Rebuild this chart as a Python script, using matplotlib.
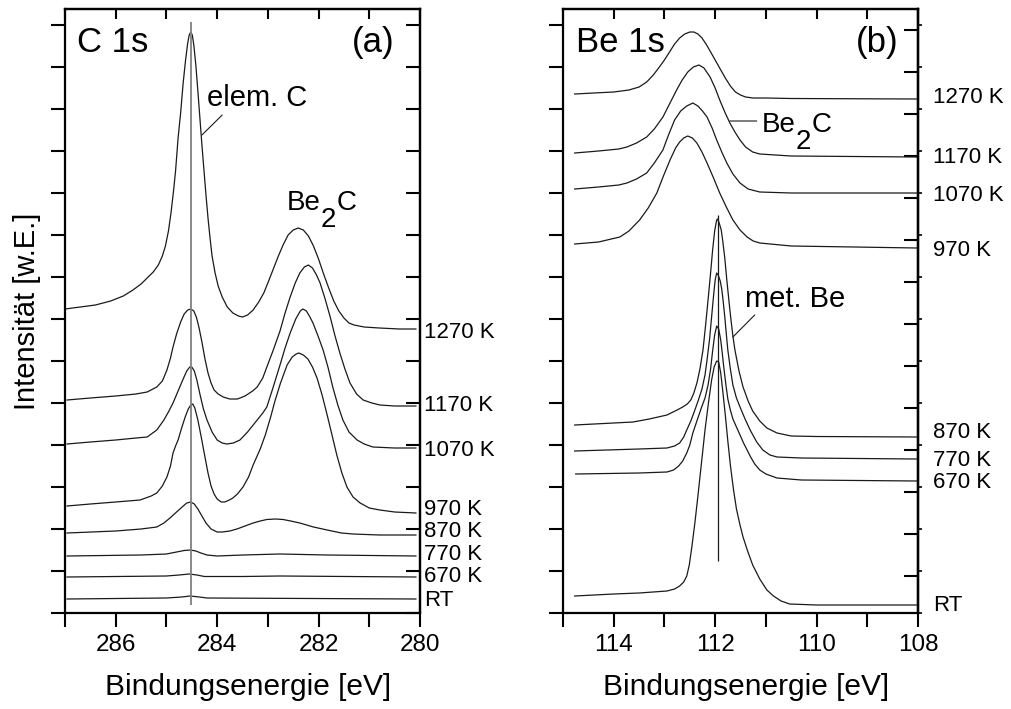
import matplotlib
matplotlib.use('Agg')
import matplotlib.pyplot as plt
import matplotlib.transforms as mtransforms
from matplotlib.ticker import MultipleLocator, NullFormatter

plt.rcParams['font.family'] = ['Liberation Sans', 'DejaVu Sans']
plt.rcParams['mathtext.default'] = 'regular'

# ---------------- data: C 1s (panel a) ----------------
c_1270_E = [287.00, 286.70, 286.40, 286.10, 285.85, 285.66, 285.50, 285.38, 285.26, 285.16, 285.08,
            285.02, 284.96, 284.91, 284.86, 284.82, 284.77, 284.72, 284.67, 284.62, 284.58, 284.55,
            284.52, 284.49, 284.46, 284.42, 284.38, 284.34, 284.30, 284.26, 284.22, 284.18, 284.14,
            284.10, 284.04, 283.98, 283.90, 283.80, 283.69, 283.58, 283.50, 283.40, 283.29, 283.18,
            283.08, 283.00, 282.90, 282.80, 282.70, 282.60, 282.50, 282.40, 282.30, 282.20, 282.10,
            282.00, 281.90, 281.80, 281.70, 281.60, 281.50, 281.40, 281.30, 281.10, 280.80, 280.40,
            280.08]
c_1270_I = [304, 306, 308, 312, 317, 323, 329, 335, 341, 348, 357,
            367, 382, 400, 422, 442, 475, 500, 530, 554, 570, 578,
            581, 578, 568, 548, 522, 495, 468, 443, 418, 395, 375,
            357, 340, 327, 316, 306, 300, 297, 296, 298, 303, 311,
            320, 330, 343, 356, 368, 378, 383, 385, 383, 377, 367,
            354, 339, 325, 312, 302, 295, 290, 288, 286, 285, 284,
            284]
c_1170_E = [286.96, 286.50, 286.00, 285.60, 285.38, 285.19, 285.08, 284.99, 284.92, 284.87, 284.80,
            284.72, 284.65, 284.58, 284.52, 284.46, 284.41, 284.36, 284.30, 284.24, 284.18, 284.12,
            284.06, 283.98, 283.88, 283.75, 283.60, 283.45, 283.30, 283.21, 283.10, 283.02, 282.90,
            282.76, 282.66, 282.56, 282.46, 282.37, 282.28, 282.20, 282.12, 282.04, 281.97, 281.87,
            281.77, 281.68, 281.58, 281.48, 281.38, 281.25, 281.12, 280.95, 280.79, 280.50, 280.08]
c_1170_I = [213, 215, 217, 219, 221, 226, 232, 243, 255, 266, 279,
            291, 299, 303, 304, 302, 296, 286, 271, 254, 240, 230,
            223, 219, 216, 214, 214, 217, 222, 226, 235, 246, 262,
            282, 300, 316, 330, 340, 346, 348, 345, 338, 330, 314,
            296, 278, 260, 244, 230, 219, 213, 210, 208, 207, 207]
c_1070_E = [286.96, 286.50, 286.00, 285.60, 285.38, 285.19, 285.05, 284.95, 284.87, 284.77, 284.67,
            284.60, 284.54, 284.50, 284.45, 284.40, 284.34, 284.27, 284.20, 284.10, 284.00, 283.90,
            283.81, 283.68, 283.55, 283.40, 283.21, 283.10, 283.02, 282.90, 282.76, 282.66, 282.56,
            282.45, 282.36, 282.31, 282.24, 282.17, 282.11, 282.01, 281.91, 281.81, 281.72, 281.62,
            281.52, 281.40, 281.24, 281.10, 280.93, 280.50, 280.08]
c_1070_I = [169, 171, 173, 175, 176, 183, 193, 202, 210, 222, 234,
            242, 246, 246, 242, 233, 219, 204, 193, 181, 173, 170,
            169, 170, 173, 181, 193, 200, 206, 225, 248, 265, 280,
            294, 302, 304, 302, 296, 290, 277, 263, 245, 226, 208,
            193, 181, 173, 169, 166, 165, 165]
c_970_E = [286.96, 286.50, 286.00, 285.52, 285.30, 285.19, 285.08, 284.99, 284.92, 284.87, 284.82,
           284.77, 284.70, 284.63, 284.57, 284.52, 284.48, 284.44, 284.38, 284.31, 284.24, 284.18,
           284.12, 284.06, 284.00, 283.92, 283.85, 283.76, 283.69, 283.60, 283.49, 283.38, 283.29,
           283.15, 283.05, 282.95, 282.86, 282.75, 282.62, 282.52, 282.44, 282.39, 282.30, 282.21,
           282.12, 282.03, 281.93, 281.83, 281.73, 281.64, 281.54, 281.44, 281.32, 281.18, 281.00,
           280.79, 280.50, 280.08]
c_970_I = [107, 109, 111, 113, 117, 120, 127, 136, 147, 160, 167,
           173, 185, 196, 204, 208, 209, 205, 193, 175, 156, 140,
           127, 119, 114, 111, 111, 113, 115, 119, 126, 136, 148,
           164, 178, 195, 212, 230, 248, 256, 259, 260, 258, 254,
           246, 235, 218, 198, 177, 158, 140, 126, 116, 110, 105,
           103, 101, 100]
c_870_E = [286.96, 286.00, 285.50, 285.19, 285.05, 284.93, 284.80, 284.69, 284.60, 284.52, 284.45,
           284.38, 284.30, 284.22, 284.12, 284.00, 283.90, 283.75, 283.61, 283.45, 283.29, 283.15,
           283.02, 282.85, 282.70, 282.55, 282.37, 282.10, 281.83, 281.55, 281.32, 280.80, 280.08]
c_870_I = [80, 82, 84, 86, 90, 95, 101, 106, 110, 111, 109,
           104, 97, 90, 84, 81, 81, 82, 84, 87, 90, 92,
           93.5, 94, 93.5, 92, 90, 86, 83, 80, 79, 78, 78]
c_770_E = [286.96, 285.50, 285.00, 284.80, 284.65, 284.53, 284.42, 284.32, 284.20, 284.00, 283.49,
           282.76, 281.83, 280.08]
c_770_I = [57, 58, 59, 61, 62.5, 63, 62, 60, 58, 57, 58, 59, 58, 57]
c_670_E = [286.96, 285.00, 284.75, 284.55, 284.40, 284.25, 283.50, 282.76, 280.08]
c_670_I = [36, 37, 38, 39, 38, 36.5, 36.5, 37, 36]
c_rt_E = [286.96, 285.00, 284.70, 284.53, 284.35, 284.20, 280.08]
c_rt_I = [14, 15, 16, 17, 16, 15, 14]

c_labels = ['1270 K', '1170 K', '1070 K', '970 K', '870 K', '770 K', '670 K', 'RT']
c_label_I = [281, 208, 163, 104, 82, 59, 37, 13]
c_elem_peak = 284.52
c_line_I = [8, 591]

# ---------------- data: Be 1s (panel b) ----------------
b_1270_E = [114.77, 114.40, 114.00, 113.70, 113.50, 113.35, 113.22, 113.10, 113.00, 112.90, 112.80,
            112.70, 112.60, 112.50, 112.42, 112.34, 112.26, 112.18, 112.10, 112.00, 111.90, 111.80,
            111.70, 111.60, 111.50, 111.40, 111.25, 111.00, 110.50, 108.02]
b_1270_I = [519, 520, 521, 523, 526, 531, 538, 546, 553, 561, 569,
            575, 579, 581, 581, 579, 575, 569, 562, 553, 544, 535,
            527, 521, 518, 516, 515, 515, 514.5, 514]
b_1170_E = [114.77, 114.30, 113.90, 113.74, 113.55, 113.35, 113.20, 113.03, 112.90, 112.76, 112.65,
            112.54, 112.43, 112.32, 112.22, 112.10, 112.00, 111.91, 111.81, 111.71, 111.61, 111.51,
            111.40, 111.26, 111.12, 110.50, 108.02]
b_1170_I = [460, 462, 464, 466, 470, 476, 484, 496, 509, 523, 533,
            541, 546, 548, 545, 536, 525, 513, 501, 490, 481, 473,
            466, 461, 459, 457, 456]
b_1070_E = [114.77, 114.30, 113.90, 113.74, 113.55, 113.35, 113.20, 113.03, 112.92, 112.80, 112.68,
            112.56, 112.44, 112.34, 112.25, 112.16, 112.06, 111.97, 111.87, 111.77, 111.65, 111.51,
            111.35, 111.12, 110.50, 108.02]
b_1070_I = [424, 426, 428, 430, 434, 440, 450, 463, 478, 493, 502,
            507, 510, 507, 502, 496, 485, 473, 461, 450, 439, 430,
            424, 421, 420, 420]
b_970_E = [114.77, 114.30, 113.88, 113.70, 113.49, 113.32, 113.15, 113.02, 112.89, 112.78, 112.70,
           112.62, 112.54, 112.45, 112.36, 112.26, 112.16, 112.04, 111.91, 111.78, 111.65, 111.51,
           111.37, 111.25, 111.12, 110.50, 108.02]
b_970_I = [369, 371, 376, 382, 393, 405, 420, 437, 453, 465, 471,
           475, 477, 475, 470, 461, 450, 436, 420, 406, 393, 383,
           376, 372, 370, 367, 365]
b_870_E = [114.77, 114.00, 113.62, 113.30, 112.95, 112.75, 112.64, 112.55, 112.48, 112.42, 112.36,
           112.30, 112.24, 112.19, 112.14, 112.09, 112.05, 112.01, 111.97, 111.95, 111.92, 111.88,
           111.85, 111.81, 111.77, 111.73, 111.69, 111.65, 111.61, 111.53, 111.45, 111.35, 111.26,
           111.12, 110.98, 110.78, 110.50, 110.00, 108.02]
b_870_I = [188, 190, 191, 194, 198, 203, 206, 209, 213, 220, 230,
           244, 263, 287, 313, 340, 363, 382, 393, 394, 390, 383,
           372, 355, 333, 313, 294, 277, 263, 242, 226, 212, 202,
           192, 185, 180, 177, 176.5, 176]
b_770_E = [114.77, 113.50, 112.95, 112.80, 112.70, 112.62, 112.56, 112.48, 112.40, 112.33, 112.26,
           112.20, 112.16, 112.11, 112.07, 112.03, 112.00, 111.97, 111.94, 111.90, 111.87, 111.84,
           111.81, 111.78, 111.75, 111.70, 111.65, 111.58, 111.51, 111.41, 111.31, 111.18, 111.06,
           110.92, 110.78, 110.30, 108.02]
b_770_I = [162, 164, 165, 167, 170, 176, 183, 192, 203, 213, 224,
           238, 253, 274, 296, 318, 333, 340, 338, 332, 324, 311,
           296, 279, 263, 244, 228, 215, 206, 194, 183, 171, 163,
           158, 156, 155, 154]
b_670_E = [114.75, 113.50, 112.95, 112.82, 112.72, 112.64, 112.56, 112.50, 112.44, 112.36, 112.28,
           112.20, 112.14, 112.09, 112.05, 112.01, 111.97, 111.93, 111.89, 111.86, 111.83, 111.79,
           111.75, 111.70, 111.65, 111.58, 111.51, 111.44, 111.37, 111.30, 111.22, 111.12, 111.00,
           110.78, 110.30, 108.02]
b_670_I = [139, 140, 141, 143, 147, 152, 160, 168, 180, 192, 204,
           215, 228, 244, 262, 278, 287, 284, 273, 260, 246, 229,
           214, 203, 194, 186, 178, 170, 163, 156, 149, 143, 139,
           135, 133, 132]
b_rt_E = [114.77, 114.00, 113.50, 112.95, 112.80, 112.70, 112.62, 112.56, 112.51, 112.46, 112.40,
          112.34, 112.27, 112.20, 112.13, 112.07, 112.02, 111.97, 111.93, 111.89, 111.85, 111.80,
          111.75, 111.70, 111.64, 111.58, 111.51, 111.45, 111.36, 111.26, 111.12, 110.98, 110.85,
          110.70, 110.53, 110.00, 108.02]
b_rt_I = [17, 19, 20, 22, 24, 27, 31, 37, 48, 66, 90,
          117, 150, 183, 211, 233, 246, 252, 251, 240, 222, 198,
          172, 148, 124, 104, 88, 76, 62, 48, 34, 23, 17,
          12, 9, 8, 8]

b_labels = ['1270 K', '1170 K', '1070 K', '970 K', '870 K', '770 K', '670 K', 'RT']
b_label_I = [516, 456, 418, 363, 181, 153, 131, 8]
b_met_peak = 111.95
b_line_I = [52, 398]

# ---------------- figure ----------------
fig = plt.figure(figsize=(10.11, 7.09), dpi=100)
axA = fig.add_axes([0.0643, 0.1354, 0.3511, 0.8519])
axB = fig.add_axes([0.5569, 0.1354, 0.3511, 0.8519])

LINE = '#1a1a1a'
PX = 0.72  # points per pixel at dpi 100


def style(ax, xlim, right_off, small_out):
    ax.set_xlim(*xlim)
    ax.set_ylim(0, 604)
    ax.xaxis.set_major_locator(MultipleLocator(2))
    ax.xaxis.set_minor_locator(MultipleLocator(1))
    ax.yaxis.set_major_locator(MultipleLocator(42))
    ax.yaxis.set_major_formatter(NullFormatter())
    ax.tick_params(axis='x', which='both', direction='out', length=10, width=1.5,
                   labelsize=17.5, pad=5.3, top=False)
    ax.tick_params(axis='y', which='both', direction='out', length=10, width=1.5, right=False)
    for s in ax.spines.values():
        s.set_linewidth(1.6)
    top = ax.secondary_xaxis('top')
    top.xaxis.set_major_locator(MultipleLocator(1))
    top.xaxis.set_major_formatter(NullFormatter())
    top.tick_params(direction='in', length=7, width=1.5)
    top.spines['top'].set_linewidth(1.6)
    off = right_off
    r = ax.secondary_yaxis('right', functions=(lambda y: y + off, lambda y: y - off))
    r.yaxis.set_major_locator(MultipleLocator(42))
    r.yaxis.set_major_formatter(NullFormatter())
    r.tick_params(direction='in', length=10, width=1.5)
    r.spines['right'].set_linewidth(1.6)
    if small_out:
        r2 = ax.secondary_yaxis('right')
        r2.yaxis.set_major_locator(MultipleLocator(42))
        r2.yaxis.set_major_formatter(NullFormatter())
        r2.tick_params(direction='out', length=3, width=1.2)
        r2.spines['right'].set_linewidth(1.6)
    ax.set_xlabel('Bindungsenergie [eV]', fontsize=21.5)
    ax.xaxis.set_label_coords(0.517, -0.099)


style(axA, (287, 280), 0, False)
style(axB, (115, 108), 5, True)

# panel a spectra
for E, I in [(c_1270_E, c_1270_I), (c_1170_E, c_1170_I), (c_1070_E, c_1070_I),
             (c_970_E, c_970_I), (c_870_E, c_870_I), (c_770_E, c_770_I),
             (c_670_E, c_670_I), (c_rt_E, c_rt_I)]:
    axA.plot(E, I, color=LINE, lw=0.9)
axA.vlines(c_elem_peak, c_line_I[0], c_line_I[1], color='#808080', lw=1.3)

# panel b spectra
for E, I in [(b_1270_E, b_1270_I), (b_1170_E, b_1170_I), (b_1070_E, b_1070_I),
             (b_970_E, b_970_I), (b_870_E, b_870_I), (b_770_E, b_770_I),
             (b_670_E, b_670_I), (b_rt_E, b_rt_I)]:
    axB.plot(E, I, color=LINE, lw=0.9)
axB.vlines(b_met_peak, b_line_I[0], b_line_I[1], color=LINE, lw=0.9)

# right-side temperature labels
trA = mtransforms.blended_transform_factory(axA.transAxes, axA.transData)
for lab, yv in zip(c_labels, c_label_I):
    axA.text(1.011, yv, lab, transform=trA, fontsize=16, va='center', ha='left', clip_on=False)
trB = mtransforms.blended_transform_factory(axB.transAxes, axB.transData)
for lab, yv in zip(b_labels, b_label_I):
    axB.text(1.042, yv, lab, transform=trB, fontsize=16, va='center', ha='left', clip_on=False)

# panel titles
axA.text(0.034, 0.944, 'C 1s', transform=axA.transAxes, fontsize=25, va='center', ha='left')
axA.text(0.927, 0.944, '(a)', transform=axA.transAxes, fontsize=25, va='center', ha='right')
axB.text(0.037, 0.944, 'Be 1s', transform=axB.transAxes, fontsize=25, va='center', ha='left')
axB.text(0.944, 0.944, '(b)', transform=axB.transAxes, fontsize=25, va='center', ha='right')


def be2c(ax, x, y, fs):
    ax.annotate('Be', xy=(x, y), fontsize=fs, va='baseline', ha='left')
    ax.annotate('2', xy=(x, y), xytext=(34 * PX, -16.5 * PX), textcoords='offset points',
                fontsize=fs, va='baseline', ha='left')
    ax.annotate('C', xy=(x, y), xytext=(50 * PX, 0), textcoords='offset points',
                fontsize=fs, va='baseline', ha='left')


# annotations
axA.text(284.20, 515, 'elem. C', fontsize=21, va='center', ha='left')
axA.annotate('', xy=(284.30, 478), xytext=(283.90, 498),
             arrowprops=dict(arrowstyle='-', color=LINE, lw=0.8, shrinkA=0, shrinkB=0))
be2c(axA, 282.62, 403, 20)

be2c(axB, 111.08, 481, 20)
axB.annotate('', xy=(111.71, 492), xytext=(111.18, 492),
             arrowprops=dict(arrowstyle='-', color=LINE, lw=0.8, shrinkA=0, shrinkB=0))
axB.text(111.41, 306, 'met. Be', fontsize=21, va='baseline', ha='left')
axB.annotate('', xy=(111.65, 276), xytext=(111.22, 298),
             arrowprops=dict(arrowstyle='-', color=LINE, lw=0.8, shrinkA=0, shrinkB=0))

axA.set_ylabel('Intensität [w.E.]', fontsize=21)
axA.yaxis.set_label_coords(-0.068, 0.5)

fig.savefig('out.png', dpi=100)
